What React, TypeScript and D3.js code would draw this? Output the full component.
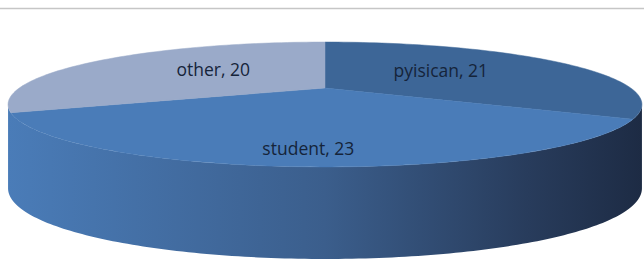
import { useEffect, useRef } from 'react';
import * as d3 from 'd3';

// chart data
const categories = ['pyisican', 'student', 'other'];
const values = [21, 23, 20];
const topColors = ['#3d6697', '#4a7cb8', '#9aaac9'];

const W = 644;
const H = 260;

export default function App() {
  const svgRef = useRef<SVGSVGElement>(null);

  useEffect(() => {
    if (!svgRef.current) return;
    const root = d3.select(svgRef.current);
    root.selectAll('*').remove();

    // perspective projection of the disc
    const cx = 325;
    const cy = 88;
    const R = 305.7;
    const S = 58.1;
    const k = 0.264;
    const proj = (theta: number, f = 1): [number, number] => {
      const u = f * Math.sin(theta);
      const v = -f * Math.cos(theta);
      const w = 1 - k * v;
      return [cx + (R * u) / w, cy + (S * v) / w];
    };
    const depth = (theta: number) => 81 + 11 * -Math.cos(theta);

    const pie = d3
      .pie<number>()
      .sort(null)
      .startAngle(0)
      .endAngle(Math.PI * 2);
    const arcs = pie(values);

    const defs = root.append('defs');
    const grad = defs
      .append('linearGradient')
      .attr('id', 'side')
      .attr('gradientUnits', 'userSpaceOnUse')
      .attr('x1', 8)
      .attr('x2', 642)
      .attr('y1', 0)
      .attr('y2', 0);
    grad.append('stop').attr('offset', 0).attr('stop-color', '#4a7cb8');
    grad.append('stop').attr('offset', 0.5).attr('stop-color', '#3b5e8c');
    grad.append('stop').attr('offset', 0.82).attr('stop-color', '#283c5c');
    grad.append('stop').attr('offset', 1).attr('stop-color', '#1d2b44');

    // frame line at top
    root
      .append('line')
      .attr('x1', 0)
      .attr('x2', W)
      .attr('y1', 8.5)
      .attr('y2', 8.5)
      .attr('stroke', '#c6c6c6')
      .attr('stroke-width', 1.5);

    // side wall, between the two outermost points of the rim
    const steps = 160;
    const a0 = Math.acos(-k);
    const a1 = Math.PI * 2 - a0;
    const topEdge = d3.range(steps + 1).map((i) => a0 + ((a1 - a0) * i) / steps);
    const sidePts: [number, number][] = [
      ...topEdge.map((t) => proj(t)),
      ...topEdge
        .slice()
        .reverse()
        .map((t) => {
          const [x, y] = proj(t);
          return [x, y + depth(t)] as [number, number];
        }),
    ];
    root
      .append('path')
      .attr('d', d3.line()(sidePts) + 'Z')
      .attr('fill', 'url(#side)');

    // top faces
    arcs.forEach((a, i) => {
      const n = Math.max(8, Math.ceil(((a.endAngle - a.startAngle) / Math.PI) * 120));
      const pts: [number, number][] = [[cx, cy]];
      for (let j = 0; j <= n; j++) {
        pts.push(proj(a.startAngle + ((a.endAngle - a.startAngle) * j) / n));
      }
      root
        .append('path')
        .attr('d', d3.line()(pts) + 'Z')
        .attr('fill', topColors[i])
        .attr('stroke', topColors[i])
        .attr('stroke-width', 0.5);
    });

    // labels
    arcs.forEach((a, i) => {
      const mid = (a.startAngle + a.endAngle) / 2;
      const front = -Math.cos(mid) > 0.9;
      const [x, y] = proj(mid, front ? 0.86 : 0.47);
      root
        .append('text')
        .attr('x', x)
        .attr('y', y - 5)
        .attr('text-anchor', 'middle')
        .attr('dominant-baseline', 'central')
        .attr('font-family', '"Open Sans", "Noto Sans", sans-serif')
        .attr('font-size', 17.5)
        .attr('fill', '#15243a')
        .text(`${categories[i]}, ${values[i]}`);
    });
  }, []);

  return (
    <div style={{ position: 'fixed', left: 0, top: 0, background: '#fff' }}>
      <svg ref={svgRef} width={W} height={H} style={{ display: 'block' }} />
    </div>
  );
}
